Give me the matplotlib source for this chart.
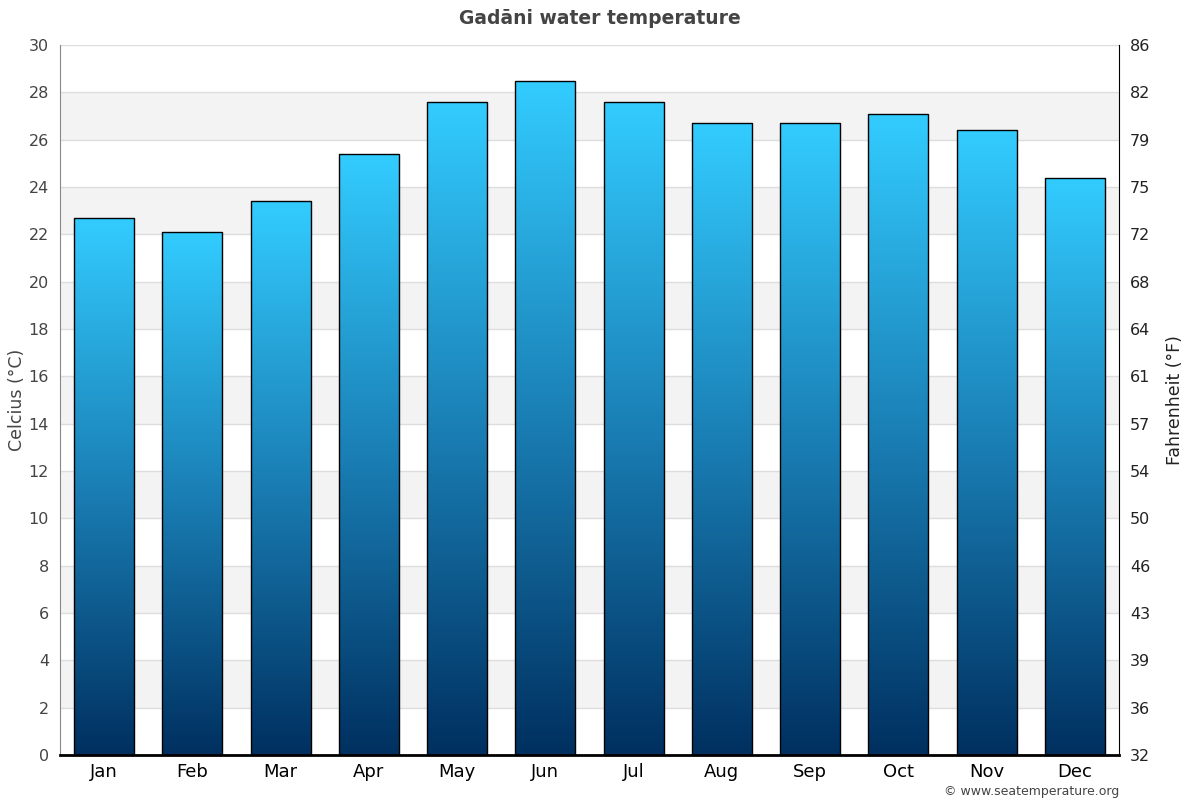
import matplotlib
matplotlib.use("Agg")
import matplotlib.pyplot as plt
import numpy as np
from matplotlib.colors import LinearSegmentedColormap

months = ["Jan", "Feb", "Mar", "Apr", "May", "Jun",
          "Jul", "Aug", "Sep", "Oct", "Nov", "Dec"]
water_c = [22.7, 22.1, 23.4, 25.4, 27.6, 28.5, 27.6, 26.7, 26.7, 27.1, 26.4, 24.4]
c_ticks = list(range(0, 31, 2))
f_labels = ["32", "36", "39", "43", "46", "50", "54", "57", "61",
            "64", "68", "72", "75", "79", "82", "86"]

fig = plt.figure(figsize=(12, 8), dpi=100)
ax = fig.add_axes([0.05, 0.05625, 0.8825, 0.8875])

x = np.arange(len(months))

# alternating bands + grid
for lo in range(2, 30, 4):
    ax.axhspan(lo, lo + 2, color="#f3f3f3", zorder=0, lw=0)
for t in c_ticks:
    ax.axhline(t, color="#dddddd", lw=1, zorder=0.5)

cmap = LinearSegmentedColormap.from_list("sea", ["#003060", "#1a7fb5", "#33ccff"])
grad = np.linspace(0, 1, 256).reshape(-1, 1)

bars = ax.bar(x, water_c, width=0.68, facecolor="none", edgecolor="black",
              lw=1, zorder=3)
for b in bars:
    x0, w, h = b.get_x(), b.get_width(), b.get_height()
    im = ax.imshow(grad, cmap=cmap, origin="lower", aspect="auto",
                   extent=(x0, x0 + w, 0, h), zorder=2)
    im.set_clip_path(b)
ax.set_xlim(-0.5, len(months) - 0.5)
ax.set_ylim(0, 30)

ax.set_xticks(x)
ax.set_xticklabels(months, fontsize=13, color="black")
ax.set_yticks(c_ticks)
ax.tick_params(axis="y", labelsize=11.5, colors="#444444", length=0, pad=8)
ax.tick_params(axis="x", length=0, pad=6)

for s in ["top", "right"]:
    ax.spines[s].set_visible(False)
ax.spines["left"].set_color("#888888")
ax.spines["bottom"].set_color("black")
ax.spines["bottom"].set_linewidth(2)

ax2 = ax.twinx()
ax2.set_ylim(0, 30)
ax2.set_yticks(c_ticks)
ax2.set_yticklabels(f_labels)
ax2.tick_params(axis="y", labelsize=11.5, colors="#222222", length=0, pad=8)
for s in ["top", "left", "bottom"]:
    ax2.spines[s].set_visible(False)
ax2.spines["right"].set_color("black")

# axis titles placed in figure coords
fig.text(0.0145, 0.5, "Celcius (°C)", rotation=90, ha="center", va="center",
         fontsize=12.5, color="#444444")
fig.text(0.979, 0.5, "Fahrenheit (°F)", rotation=90, ha="center", va="center",
         fontsize=12.5, color="#222222")

fig.text(0.5, 0.977, "Gadāni water temperature", ha="center", va="center",
         fontsize=13.5, fontweight="bold", color="#444444")
fig.text(0.9325, 0.01, "© www.seatemperature.org", ha="right", va="center",
         fontsize=9, color="#444444")

fig.savefig("out.png", dpi=100)
